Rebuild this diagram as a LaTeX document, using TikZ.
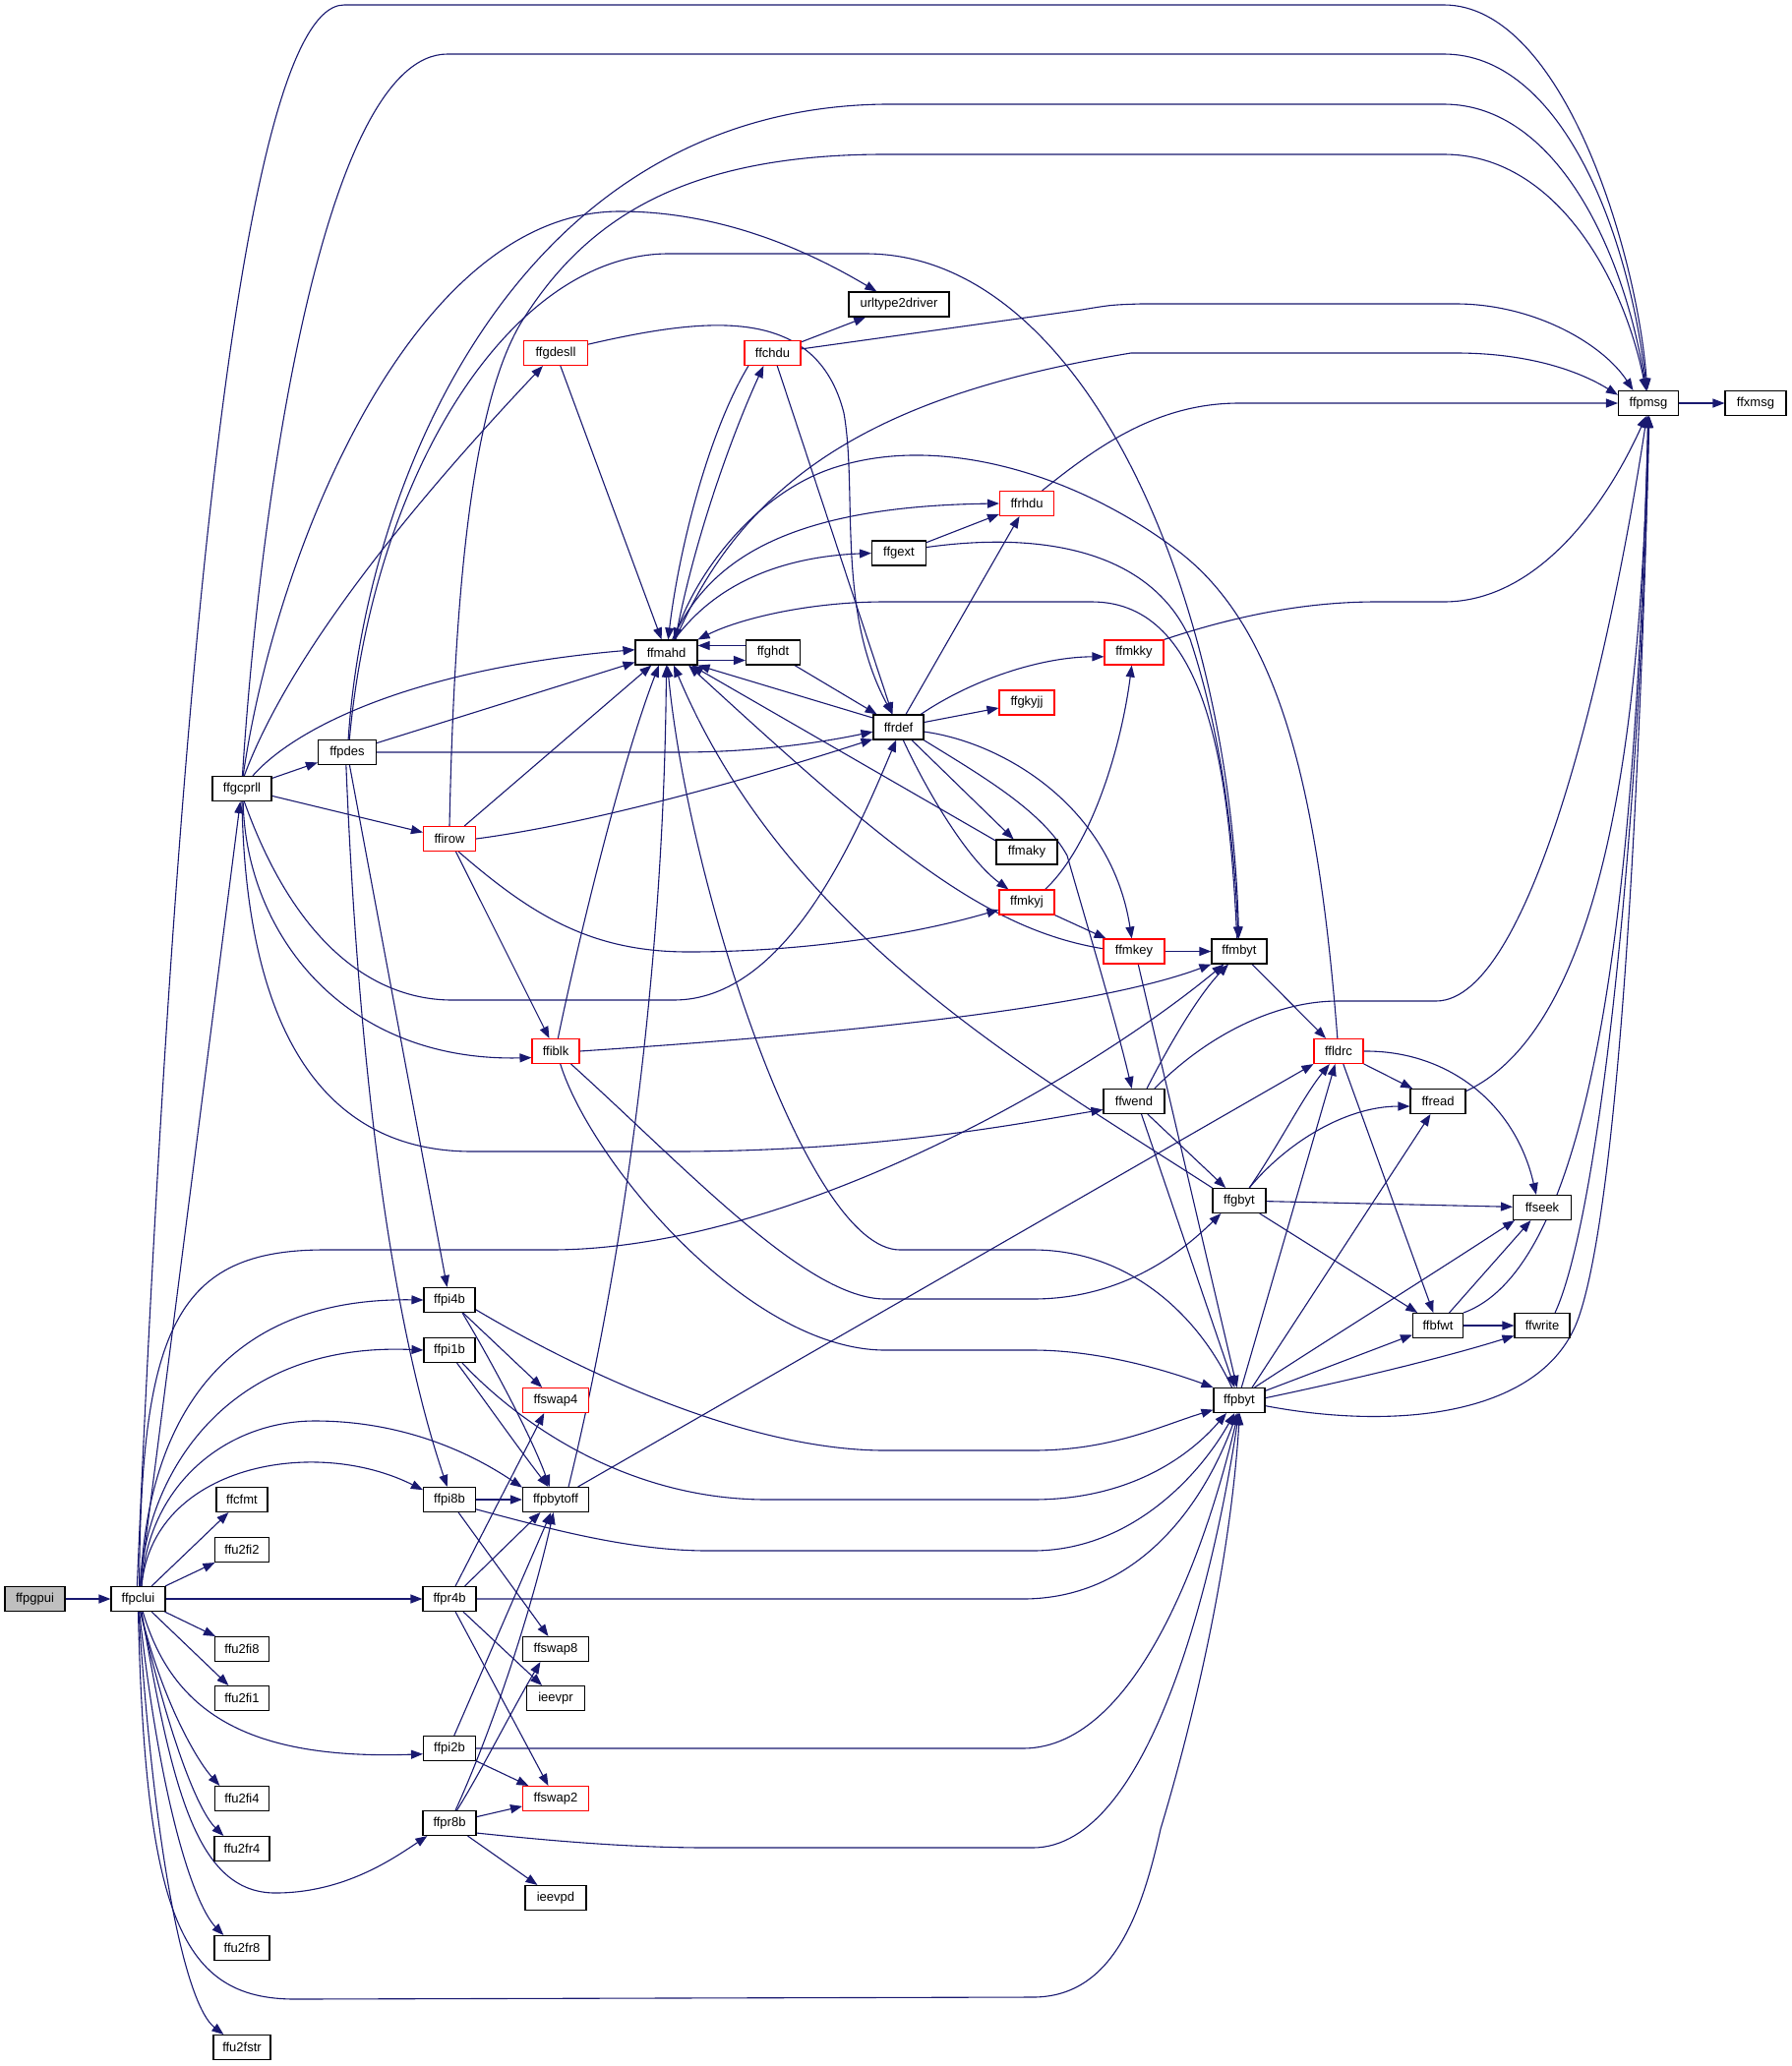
\documentclass[tikz,border=0pt]{standalone}
\usepackage{fontspec}
\setmainfont{Liberation Sans}
\usetikzlibrary{arrows.meta,backgrounds}
\definecolor{edgec}{HTML}{191970}
\definecolor{grayfill}{HTML}{BFBFBF}
\begin{document}
\begin{tikzpicture}[x=1pt,y=-1pt,
  nd/.style={draw=black, line width=1.1pt, fill=white, minimum height=25pt, inner sep=0pt, font=\fontsize{13}{15}\selectfont},
  rn/.style={nd, draw=red},
  ed/.style={draw=edgec, line width=1.1pt, line join=round, -{Triangle[length=12pt,width=9pt]}}]
\useasboundingbox (0,0) rectangle (1821,2101);
% ---------- nodes ----------
\node[nd, fill=grayfill, minimum width=61pt] (ffpgpui) at (35.5,1626) {ffpgpui};
\node[nd, minimum width=55pt] (ffpclui) at (140.5,1626) {ffpclui};
\node[nd, minimum width=52pt] (ffcfmt) at (246,1525) {ffcfmt};
\node[nd, minimum width=55pt] (ffu2fi2) at (246,1576) {ffu2fi2};
\node[nd, minimum width=55pt] (ffu2fi8) at (246,1677) {ffu2fi8};
\node[nd, minimum width=55pt] (ffu2fi1) at (246,1727) {ffu2fi1};
\node[nd, minimum width=55pt] (ffu2fi4) at (246,1829) {ffu2fi4};
\node[nd, minimum width=56pt] (ffu2fr4) at (246,1880) {ffu2fr4};
\node[nd, minimum width=56pt] (ffu2fr8) at (246,1981) {ffu2fr8};
\node[nd, minimum width=58pt] (ffu2fstr) at (246,2082) {ffu2fstr};
\node[nd, minimum width=60pt] (ffgcprll) at (246,802) {ffgcprll};
\node[nd, minimum width=59pt] (ffpdes) at (353,765) {ffpdes};
\node[rn, minimum width=53pt] (ffirow) at (457,853) {ffirow};
\node[rn, minimum width=65pt] (ffgdesll) at (565,359) {ffgdesll};
\node[rn, minimum width=57pt] (ffchdu) at (785.5,359) {ffchdu};
\node[nd, minimum width=102pt] (urltype2driver) at (914,309.5) {urltype2driver};
\node[nd, minimum width=63pt] (ffmahd) at (677.5,663.5) {ffmahd};
\node[nd, minimum width=55pt] (ffghdt) at (786,663.5) {ffghdt};
\node[nd, minimum width=55pt] (ffgext) at (914,562.5) {ffgext};
\node[rn, minimum width=55pt] (ffrhdu) at (1044,512) {ffrhdu};
\node[nd, minimum width=51pt] (ffrdef) at (913.5,739.5) {ffrdef};
\node[rn, minimum width=56pt] (ffgkyjj) at (1044,714.5) {ffgkyjj};
\node[rn, minimum width=60pt] (ffmkky) at (1153,663.5) {ffmkky};
\node[nd, minimum width=62pt] (ffmaky) at (1044,866.5) {ffmaky};
\node[rn, minimum width=56pt] (ffmkyj) at (1044,917.5) {ffmkyj};
\node[rn, minimum width=62pt] (ffmkey) at (1153,967.5) {ffmkey};
\node[nd, minimum width=56pt] (ffmbyt) at (1260,967.5) {ffmbyt};
\node[rn, minimum width=50pt] (ffldrc) at (1361,1069) {ffldrc};
\node[nd, minimum width=62pt] (ffwend) at (1153,1120) {ffwend};
\node[nd, minimum width=56pt] (ffread) at (1462,1120) {ffread};
\node[nd, minimum width=54pt] (ffgbyt) at (1260,1221) {ffgbyt};
\node[nd, minimum width=59pt] (ffseek) at (1568,1228) {ffseek};
\node[nd, minimum width=51pt] (ffbfwt) at (1462,1348) {ffbfwt};
\node[nd, minimum width=56pt] (ffwrite) at (1568,1348) {ffwrite};
\node[nd, minimum width=52pt] (ffpbyt) at (1260,1424) {ffpbyt};
\node[nd, minimum width=61pt] (ffpmsg) at (1676,410) {ffpmsg};
\node[nd, minimum width=62pt] (ffxmsg) at (1785,410) {ffxmsg};
\node[rn, minimum width=48pt] (ffiblk) at (565,1069) {ffiblk};
\node[nd, minimum width=52pt] (ffpi4b) at (457,1322) {ffpi4b};
\node[nd, minimum width=52pt] (ffpi1b) at (457,1373) {ffpi1b};
\node[rn, minimum width=67pt] (ffswap4) at (565,1424) {ffswap4};
\node[nd, minimum width=53pt] (ffpi8b) at (457,1525) {ffpi8b};
\node[nd, minimum width=67pt] (ffpbytoff) at (565,1525) {ffpbytoff};
\node[nd, minimum width=54pt] (ffpr4b) at (457,1626) {ffpr4b};
\node[nd, minimum width=67pt] (ffswap8) at (565,1677) {ffswap8};
\node[nd, minimum width=59pt] (ieevpr) at (565,1727) {ieevpr};
\node[nd, minimum width=53pt] (ffpi2b) at (457,1778) {ffpi2b};
\node[rn, minimum width=67pt] (ffswap2) at (565,1829) {ffswap2};
\node[nd, minimum width=54pt] (ffpr8b) at (457,1854) {ffpr8b};
\node[nd, minimum width=62pt] (ieevpd) at (565,1930) {ieevpd};
% ---------- edges ----------
\begin{pgfonlayer}{background}
\fill[white] (0,0) rectangle (1821,2101);
\draw[ed] (ffpgpui) -- (ffpclui);
% ffpclui
\draw[ed] (ffpclui) -- (ffcfmt);
\draw[ed] (ffpclui) -- (ffu2fi2);
\draw[ed] (ffpclui) -- (ffu2fi8);
\draw[ed] (ffpclui) -- (ffu2fi1);
\draw[ed] (ffpclui.-80) .. controls (165,1730) and (200,1790) .. (ffu2fi4.150);
\draw[ed] (ffpclui.-80) .. controls (170,1760) and (200,1840) .. (ffu2fr4.145);
\draw[ed] (ffpclui.-85) .. controls (165,1850) and (200,1940) .. (ffu2fr8.145);
\draw[ed] (ffpclui.-88) .. controls (158,1900) and (190,2040) .. (ffu2fstr.145);
\draw[ed] (ffpclui) -- (ffgcprll);
\draw[ed] (ffpclui.95) .. controls (170,900) and (230,5) .. (350,5) -- (1468,5) .. controls (1590,5) and (1665,260) .. (ffpmsg.95);
\draw[ed] (ffpclui.85) .. controls (143,1350) and (180,1271) .. (330,1271) -- (560,1271) .. controls (800,1271) and (1100,1100) .. (ffmbyt.-140);
\draw[ed] (ffpclui.80) .. controls (150,1440) and (230,1319) .. (ffpi4b.west);
\draw[ed] (ffpclui.80) .. controls (148,1500) and (230,1364) .. (ffpi1b.west);
\draw[ed] (ffpclui.75) .. controls (150,1510) and (230,1445) .. (320,1445) .. controls (420,1445) and (490,1485) .. (ffpbytoff.160);
\draw[ed] (ffpclui.75) .. controls (155,1490) and (320,1460) .. (ffpi8b.160);
\draw[ed] (ffpclui) -- (ffpr4b);
\draw[ed] (ffpclui.-70) .. controls (175,1740) and (250,1790) .. (ffpi2b.-168);
\draw[ed] (ffpclui.-75) .. controls (175,1820) and (200,1925) .. (280,1925) .. controls (350,1925) and (400,1890) .. (ffpr8b.-150);
\draw[ed] (ffpclui.-90) .. controls (148,1950) and (185,2033) .. (300,2033) -- (1050,2031) .. controls (1130,2031) and (1160,1950) .. (1180,1860) .. controls (1210,1760) and (1250,1600) .. (ffpbyt.-88);
% ffgcprll
\draw[ed] (ffgcprll) -- (ffpdes);
\draw[ed] (ffgcprll) -- (ffirow);
\draw[ed] (ffgcprll.50) .. controls (300,740) and (420,680) .. (ffmahd.175);
\draw[ed] (ffgcprll.80) .. controls (300,650) and (450,480) .. (ffgdesll.-135);
\draw[ed] (ffgcprll.85) .. controls (280,560) and (420,215) .. (630,215) .. controls (740,215) and (830,260) .. (urltype2driver.150);
\draw[ed] (ffgcprll.88) .. controls (265,500) and (330,55) .. (455,55) -- (1468,55) .. controls (1585,55) and (1655,230) .. (ffpmsg.97);
\draw[ed] (ffgcprll.-80) .. controls (300,960) and (380,1017) .. (460,1017) -- (685,1017) .. controls (800,1017) and (870,850) .. (ffrdef.-100);
\draw[ed] (ffgcprll.-85) .. controls (250,950) and (350,1080) .. (ffiblk.-165);
\draw[ed] (ffgcprll.-90) .. controls (250,1050) and (330,1171) .. (480,1171) -- (685,1171) .. controls (900,1171) and (1050,1140) .. (ffwend.-165);
% ffpdes
\draw[ed] (ffpdes) -- (ffmahd);
\draw[ed] (ffpdes.east) -- (690,765) .. controls (780,765) and (850,752) .. (ffrdef.-170);
\draw[ed] (ffpdes.85) .. controls (370,500) and (520,110) .. (900,106) -- (1468,106) .. controls (1580,106) and (1650,250) .. (ffpmsg.99);
\draw[ed] (ffpdes.80) .. controls (380,480) and (520,258) .. (680,258) -- (880,258) .. controls (1100,258) and (1250,600) .. (ffmbyt.92);
\draw[ed] (ffpdes) -- (ffpi4b);
\draw[ed] (ffpdes.-95) .. controls (365,1100) and (400,1350) .. (ffpi8b.100);
% ffirow
\draw[ed] (ffirow) -- (ffmahd);
\draw[ed] (ffirow.east) .. controls (620,835) and (800,780) .. (ffrdef.-155);
\draw[ed] (ffirow.north) .. controls (462,600) and (480,400) .. (535,320) .. controls (600,220) and (700,157) .. (900,157) -- (1468,157) .. controls (1580,157) and (1650,280) .. (ffpmsg.101);
\draw[ed] (ffirow) -- (ffiblk);
\draw[ed] (ffirow.-55) .. controls (540,930) and (600,968) .. (700,968) .. controls (820,968) and (930,950) .. (ffmkyj.-165);
% ffgdesll, ffchdu
\draw[ed] (ffgdesll) -- (ffmahd);
\draw[ed] (ffgdesll.15) .. controls (720,322) and (830,310) .. (858,420) .. controls (872,500) and (850,620) .. (ffrdef.115);
\draw[ed] (ffchdu) -- (urltype2driver);
\draw[ed] (ffchdu.8) -- (1100,315) .. controls (1130,310) .. (1160,309) -- (1480,309) .. controls (1560,309) and (1630,350) .. (ffpmsg.140);
\draw[ed] (ffchdu.-70) -- (ffrdef.115);
\draw[ed] (ffchdu.-152) .. controls (720,440) and (690,560) .. (ffmahd.82);
% ffmahd
\draw[ed] (ffmahd.55) .. controls (705,550) and (745,440) .. (ffchdu.-125);
\draw[ed] (ffmahd.65) .. controls (720,570) and (800,515) .. (ffrhdu.west);
\draw[ed] (ffmahd.58) .. controls (730,590) and (800,566) .. (ffgext.west);
\draw[ed] (ffmahd.55) .. controls (760,480) and (900,400) .. (1150,359) -- (1480,359) .. controls (1560,359) and (1610,380) .. (ffpmsg.165);
\draw[ed] ([yshift=-8pt]ffmahd.east) -- ([yshift=-8pt]ffghdt.west);
\draw[ed] ([yshift=7pt]ffghdt.west) -- ([yshift=7pt]ffmahd.east);
\draw[ed] (ffghdt) -- (ffrdef);
\draw[ed] (ffmbyt.100) .. controls (1250,790) and (1230,612) .. (1110,612) -- (900,612) .. controls (820,612) and (750,630) .. (ffmahd.north east);
% ffgext, ffrhdu
\draw[ed] (ffgext) -- (ffrhdu);
\draw[ed] (ffgext.12) .. controls (1060,540) and (1170,560) .. (1210,650) .. controls (1240,740) and (1255,850) .. (ffmbyt.95);
\draw[ed] (ffrhdu.40) .. controls (1120,450) and (1180,410) .. (1260,410) -- (ffpmsg.west);
% ffrdef
\draw[ed] (ffrdef) -- (ffrhdu);
\draw[ed] (ffrdef.30) .. controls (990,690) and (1060,668) .. (ffmkky.-172);
\draw[ed] (ffrdef) -- (ffgkyjj);
\draw[ed] (ffrdef) -- (ffmaky);
\draw[ed] (ffrdef.-70) .. controls (945,810) and (985,875) .. (ffmkyj.145);
\draw[ed] (ffrdef.-27) .. controls (1000,790) and (1060,825) .. (1085,870) .. controls (1105,940) and (1135,1040) .. (ffwend.100);
\draw[ed] (ffrdef.-10) .. controls (1020,755) and (1130,820) .. (ffmkey.100);
\draw[ed] (ffrdef.160) -- (ffmahd.south east);
% ffmaky, ffmkyj, ffmkey
\draw[ed] (ffmaky.160) -- (ffmahd.-27);
\draw[ed] (ffmkyj.35) .. controls (1110,860) and (1140,760) .. (ffmkky.-100);
\draw[ed] (ffmkyj) -- (ffmkey);
\draw[ed] (ffmkey) -- (ffmbyt);
\draw[ed] (ffmkey.-72) -- (ffpbyt.100);
\draw[ed] (ffmkey.175) .. controls (1000,945) and (900,860) .. (ffmahd.-30);
% ffmkky
\draw[ed] (ffmkky.north east) .. controls (1260,625) and (1330,612) .. (1400,612) -- (1468,612) .. controls (1560,612) and (1630,520) .. (ffpmsg.-100);
% ffmbyt, ffwend
\draw[ed] (ffmbyt) -- (ffldrc);
\draw[ed] (ffwend.45) .. controls (1190,1060) and (1220,1010) .. (ffmbyt.-130);
\draw[ed] (ffwend.32) .. controls (1230,1050) and (1300,1018) .. (1360,1018) -- (1460,1018) .. controls (1560,1018) and (1640,650) .. (ffpmsg.-97);
\draw[ed] (ffwend) -- (ffgbyt);
\draw[ed] (ffwend.-60) -- (ffpbyt.110);
% ffgbyt
\draw[ed] (ffgbyt.north west) .. controls (1050,1090) and (800,950) .. (ffmahd.-60);
\draw[ed] (ffgbyt.52) .. controls (1300,1165) and (1325,1115) .. (ffldrc.-125);
\draw[ed] (ffgbyt.52) .. controls (1310,1160) and (1370,1125) .. (ffread.-170);
\draw[ed] (ffgbyt) -- (ffseek);
\draw[ed] (ffgbyt) -- (ffbfwt);
% ffldrc
\draw[ed] (ffldrc) -- (ffread);
\draw[ed] (ffldrc.east) .. controls (1470,1068) and (1540,1120) .. (ffseek.115);
\draw[ed] (ffldrc.-70) -- (ffbfwt.110);
\draw[ed] (ffldrc.95) .. controls (1340,800) and (1300,640) .. (1200,562) .. controls (1100,485) and (960,440) .. (850,475) .. controls (770,500) and (710,580) .. (ffmahd.60);
% ffread, ffbfwt, ffwrite
\draw[ed] (ffread.20) .. controls (1640,1040) and (1670,700) .. (ffpmsg.-92);
\draw[ed] (ffbfwt) -- (ffseek);
\draw[ed] (ffbfwt) -- (ffwrite);
\draw[ed] (ffbfwt.north east) .. controls (1640,1280) and (1665,800) .. (ffpmsg.-90);
\draw[ed] (ffwrite.45) .. controls (1625,1240) and (1668,850) .. (ffpmsg.-88);
% ffpbyt
\draw[ed] (ffpbyt.-12) .. controls (1420,1455) and (1570,1440) .. (1605,1340) .. controls (1640,1240) and (1665,900) .. (ffpmsg.-86);
\draw[ed] (ffpbyt.80) -- (ffldrc.-105);
\draw[ed] (ffpbyt.45) -- (ffread.-120);
\draw[ed] (ffpbyt.40) .. controls (1330,1375) and (1450,1300) .. (ffseek.-155);
\draw[ed] (ffpbyt.20) -- (ffbfwt.-160);
\draw[ed] (ffpbyt.5) .. controls (1380,1402) and (1470,1380) .. (ffwrite.-160);
\draw[ed] (ffpbyt.120) .. controls (1220,1340) and (1150,1271) .. (1050,1271) -- (915,1271) .. controls (820,1271) and (700,900) .. (ffmahd.-85);
% ffiblk
\draw[ed] (ffiblk.80) .. controls (585,970) and (630,780) .. (ffmahd.-120);
\draw[ed] (ffiblk.east) .. controls (800,1055) and (1100,1030) .. (ffmbyt.south west);
\draw[ed] (ffiblk.-40) .. controls (700,1190) and (820,1321) .. (900,1321) -- (1050,1321) .. controls (1140,1321) and (1200,1275) .. (ffgbyt.-145);
\draw[ed] (ffiblk.-70) .. controls (600,1180) and (760,1373) .. (900,1373) -- (1050,1373) .. controls (1120,1373) and (1190,1395) .. (ffpbyt.north west);
% ffpbytoff
\draw[ed] (ffpbytoff.45) .. controls (630,1300) and (675,1000) .. (ffmahd.-90);
\draw[ed] (ffpbytoff.30) -- (ffldrc.south west);
% ffpi4b, ffpi1b, ffpi8b
\draw[ed] (ffpi4b) -- (ffswap4);
\draw[ed] (ffpi4b.-45) .. controls (500,1385) and (540,1460) .. (ffpbytoff.115);
\draw[ed] (ffpi4b.-20) .. controls (590,1395) and (760,1475) .. (900,1475) -- (1050,1475) .. controls (1130,1475) and (1180,1450) .. (ffpbyt.-160);
\draw[ed] (ffpi1b.-60) .. controls (490,1420) and (525,1470) .. (ffpbytoff.120);
\draw[ed] (ffpi1b.-45) .. controls (530,1450) and (640,1525) .. (780,1525) -- (1050,1525) .. controls (1150,1525) and (1210,1480) .. (ffpbyt.-135);
\draw[ed] (ffpi8b) -- (ffpbytoff);
\draw[ed] (ffpi8b.-55) -- (ffswap8.120);
\draw[ed] (ffpi8b.-20) .. controls (560,1555) and (640,1577) .. (720,1577) -- (1050,1577) .. controls (1150,1577) and (1220,1500) .. (ffpbyt.-110);
% ffpr4b, ffpi2b, ffpr8b
\draw[ed] (ffpr4b.east) -- (1040,1626) .. controls (1150,1626) and (1220,1540) .. (ffpbyt.-100);
\draw[ed] (ffpr4b.65) -- (ffswap4.-132);
\draw[ed] (ffpr4b.40) -- (ffpbytoff.-140);
\draw[ed] (ffpr4b) -- (ieevpr);
\draw[ed] (ffpr4b.-65) -- (ffswap2.120);
\draw[ed] (ffpi2b.70) -- (ffpbytoff.-110);
\draw[ed] (ffpi2b) -- (ffswap2);
\draw[ed] (ffpi2b.east) -- (1040,1778) .. controls (1160,1778) and (1230,1560) .. (ffpbyt.-95);
\draw[ed] (ffpr8b) -- (ffswap2);
\draw[ed] (ffpr8b.65) .. controls (500,1760) and (540,1640) .. (ffpbytoff.-100);
\draw[ed] (ffpr8b.60) .. controls (490,1800) and (520,1740) .. (ffswap8.-140);
\draw[ed] (ffpr8b) -- (ieevpd);
\draw[ed] (ffpr8b.-20) .. controls (560,1872) and (640,1879) .. (720,1879) -- (1050,1879) .. controls (1170,1879) and (1235,1600) .. (ffpbyt.-92);
% ffpmsg
\draw[ed] (ffpmsg) -- (ffxmsg);
\end{pgfonlayer}
\end{tikzpicture}
\end{document}
